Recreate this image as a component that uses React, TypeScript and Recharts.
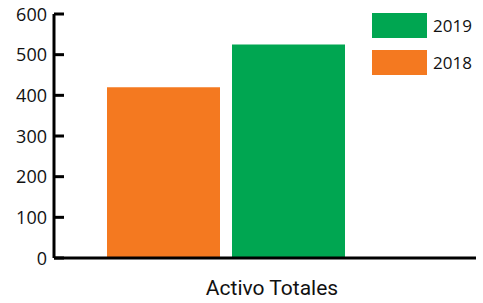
import React from 'react';
import { BarChart, Bar, XAxis, YAxis } from 'recharts';

const categories = ['Activo Totales'];
const values2018 = [420];
const values2019 = [525];
const yTicks = [0, 100, 200, 300, 400, 500, 600];
const seriesNames = ['2018', '2019'];
const colors = ['#F47920', '#00A651'];

const data = categories.map((c, i) => ({ name: c, s2018: values2018[i], s2019: values2019[i] }));

const YTick = (props: any) => {
  const { x, y, payload } = props;
  return (
    <g>
      <line x1={x} x2={x + 10} y1={y} y2={y} stroke="#000" strokeWidth={3} />
      <text x={x - 7} y={y} dy={6.5} textAnchor="end" fontSize={18} fontFamily="Open Sans" fill="#111">
        {payload.value}
      </text>
    </g>
  );
};

const LegendBox = () => {
  const items = [
    { name: seriesNames[1], color: colors[1] },
    { name: seriesNames[0], color: colors[0] },
  ];
  return (
    <div style={{ position: 'absolute', left: 372, top: 13, width: 110 }}>
      {items.map((it) => (
        <div key={it.name} style={{ display: 'flex', alignItems: 'center', height: 25, marginBottom: 12 }}>
          <div style={{ width: 55, height: 25, background: it.color }} />
          <span style={{ marginLeft: 6, fontSize: 17, fontFamily: 'Open Sans', color: '#111', lineHeight: '25px' }}>{it.name}</span>
        </div>
      ))}
    </div>
  );
};

const XLabel = (props: any) => {
  const { viewBox } = props;
  const cx = viewBox.x + viewBox.width / 2 + 7;
  return (
    <text x={cx} y={viewBox.y + 37} textAnchor="middle" fontSize={21} fontFamily="Roboto" fill="#111">
      {categories[0]}
    </text>
  );
};

export default function App() {
  return (
    <div style={{ position: 'absolute', left: 0, top: 0, width: 483, height: 303 }}>
      <BarChart
        width={483}
        height={303}
        data={data}
        margin={{ top: 14, right: 7, bottom: 0, left: 0 }}
        barCategoryGap={0}
        barGap={12}
      >
        <XAxis
          xAxisId="frame"
          type="number"
          domain={[0, 1]}
          ticks={[1]}
          height={0}
          axisLine={false}
          tickSize={-6}
          tickLine={{ stroke: '#000', strokeWidth: 3 }}
          tick={() => <g />}
        />
        <XAxis
          xAxisId="cat"
          dataKey="name"
          height={45}
          padding={{ left: 53, right: 131 }}
          axisLine={{ stroke: '#000', strokeWidth: 3 }}
          tickLine={false}
          tick={false}
          label={<XLabel />}
        />
        <YAxis
          width={54}
          domain={[0, 600]}
          ticks={yTicks}
          axisLine={{ stroke: '#000', strokeWidth: 3 }}
          tickLine={false}
          tickSize={0}
          tickMargin={0}
          tick={<YTick />}
        />
        <Bar xAxisId="cat" dataKey="s2018" name={seriesNames[0]} fill={colors[0]} isAnimationActive={false} />
        <Bar xAxisId="cat" dataKey="s2019" name={seriesNames[1]} fill={colors[1]} isAnimationActive={false} />
      </BarChart>
      <LegendBox />
    </div>
  );
}
